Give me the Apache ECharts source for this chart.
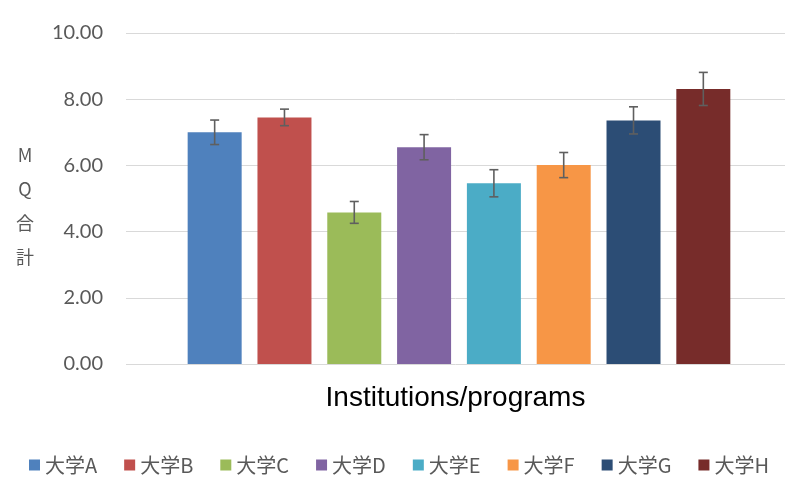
<!DOCTYPE html>
<html>
<head>
<meta charset="utf-8">
<script src="https://cdn.jsdelivr.net/npm/echarts@6/dist/echarts.min.js"></script>
<style>html,body{margin:0;padding:0;background:#fff;}#c{width:788px;height:480px;}</style>
</head>
<body>
<div id="c"></div>
<script>
const names = ['大学A','大学B','大学C','大学D','大学E','大学F','大学G','大学H'];
const values = [7.00, 7.45, 4.58, 6.55, 5.46, 6.01, 7.36, 8.31];
const errors = [0.37, 0.25, 0.33, 0.38, 0.41, 0.38, 0.41, 0.50];
const colors = ['#4F81BD','#C0504D','#9BBB59','#8064A2','#4BACC6','#F79646','#2C4D75','#772C2A'];
const yTicks = [0, 2, 4, 6, 8, 10];
const yTitle = 'M\nQ\n合\n計';
const xTitle = 'Institutions/programs';

const chart = echarts.init(document.getElementById('c'), null, {renderer: 'canvas'});

const barSeries = names.map((n, i) => ({
  name: n,
  type: 'bar',
  barWidth: 54,
  barGap: '-100%',
  itemStyle: {color: colors[i]},
  data: [[i, values[i]]],
  z: 2
}));

const errSeries = {
  type: 'custom',
  name: 'err',
  z: 5,
  data: values.map((v, i) => [i, v - errors[i], v + errors[i]]),
  renderItem: function (params, api) {
    const x = api.value(0);
    const lo = api.coord([x, api.value(1)]);
    const hi = api.coord([x, api.value(2)]);
    const hw = 4.5;
    const st = {stroke: '#5f5f5f', lineWidth: 1.6, fill: null};
    return {
      type: 'group',
      children: [
        {type: 'line', shape: {x1: hi[0], y1: hi[1], x2: lo[0], y2: lo[1]}, style: st},
        {type: 'line', shape: {x1: hi[0] - hw, y1: hi[1], x2: hi[0] + hw, y2: hi[1]}, style: st},
        {type: 'line', shape: {x1: lo[0] - hw, y1: lo[1], x2: lo[0] + hw, y2: lo[1]}, style: st}
      ]
    };
  }
};

chart.setOption({
  animation: false,
  backgroundColor: '#fff',
  color: colors,
  grid: {left: 126, right: 3, top: 33, bottom: 116, containLabel: false},
  graphic: [{
    type: 'text',
    x: 25,
    y: 138,
    style: {
      text: yTitle,
      font: '18px "Noto Sans CJK JP"',
      fill: '#595959',
      lineHeight: 34,
      align: 'center',
      verticalAlign: 'top'
    }
  }],
  legend: {
    data: names,
    top: 450,
    left: 24,
    icon: 'rect',
    itemWidth: 11,
    itemHeight: 11,
    itemGap: 27,
    textStyle: {fontFamily: 'Noto Sans CJK JP', fontSize: 20, color: '#595959'}
  },
  xAxis: {
    type: 'value',
    min: -1.27,
    max: 8.17,
    axisLabel: {show: false},
    axisTick: {show: false},
    axisLine: {show: false},
    splitLine: {show: false},
    name: xTitle,
    nameLocation: 'middle',
    nameGap: 20,
    nameTextStyle: {fontFamily: 'Liberation Sans', fontSize: 28, color: '#000', verticalAlign: 'top'}
  },
  yAxis: {
    type: 'value',
    min: yTicks[0],
    max: yTicks[yTicks.length - 1],
    interval: 2,
    axisLine: {show: false},
    axisTick: {show: false},
    splitLine: {lineStyle: {color: '#d9d9d9', width: 1}},
    axisLabel: {
      margin: 23,
      fontFamily: 'Lato',
      fontSize: 20,
      color: '#595959',
      formatter: v => v.toFixed(2)
    }
  },
  series: barSeries.concat([errSeries])
});
</script>
</body>
</html>
